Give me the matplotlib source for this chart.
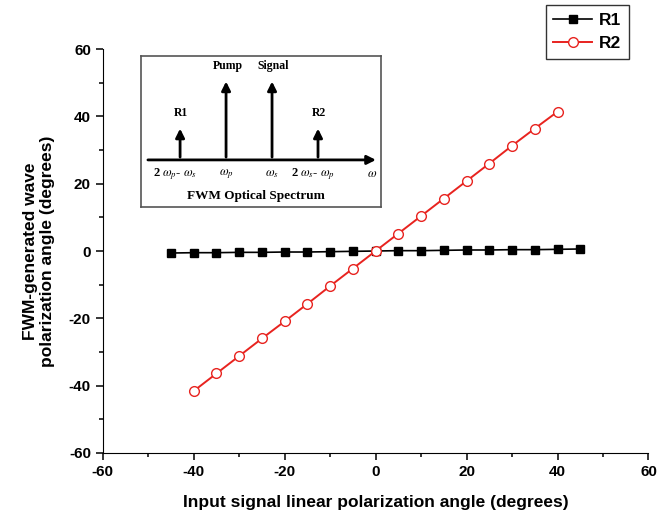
import matplotlib
matplotlib.use("Agg")
import matplotlib.pyplot as plt
from matplotlib.ticker import MultipleLocator

plt.rcParams['font.family'] = ['Liberation Sans', 'DejaVu Sans']
plt.rcParams['mathtext.fontset'] = 'stix'
plt.rcParams['axes.unicode_minus'] = False

# data
r1_x = [-45, -40, -35, -30, -25, -20, -15, -10, -5, 0, 5, 10, 15, 20, 25, 30, 35, 40, 45]
r1_y = [-0.6, -0.5, -0.5, -0.4, -0.4, -0.3, -0.3, -0.2, -0.1, 0.0, 0.1, 0.1, 0.2, 0.3, 0.3, 0.4, 0.4, 0.5, 0.6]
r2_x = [-40, -35, -30, -25, -20, -15, -10, -5, 0, 5, 10, 15, 20, 25, 30, 35, 40]
r2_y = [-41.6, -36.4, -31.2, -26.0, -20.9, -15.7, -10.4, -5.2, 0.0,
        5.2, 10.4, 15.6, 20.8, 26.0, 31.3, 36.4, 41.4]

# inset: FWM optical spectrum sketch
spec_pos = [1, 2, 3, 4]
spec_height = [0.42, 1.0, 1.0, 0.42]
spec_top = ["R1", "Pump", "Signal", "R2"]
spec_bottom = [r"2 $\omega_{p}$- $\omega_{s}$", r"$\omega_{p}$", r"$\omega_{s}$",
               r"2 $\omega_{s}$- $\omega_{p}$"]

fig = plt.figure(figsize=(6.59, 5.17), dpi=100)
ax = fig.add_axes([0.156, 0.124, 0.828, 0.781])

ax.plot(r1_x, r1_y, color="black", marker="s", markersize=6, linewidth=1.2, label="R1")
ax.plot(r2_x, r2_y, color="#e8231f", marker="o", markersize=7, markerfacecolor="white",
        markeredgecolor="#e8231f", linewidth=1.4, label="R2")

ax.set_xlim(-60, 60)
ax.set_ylim(-60, 60)
ax.xaxis.set_major_locator(MultipleLocator(20))
ax.xaxis.set_minor_locator(MultipleLocator(10))
ax.yaxis.set_major_locator(MultipleLocator(20))
ax.yaxis.set_minor_locator(MultipleLocator(10))
ax.spines['top'].set_visible(False)
ax.spines['right'].set_visible(False)
ax.tick_params(which="both", direction="out", width=1.1)
ax.tick_params(which="major", length=5, labelsize=11)
ax.tick_params(which="minor", length=3)
for lab in ax.get_xticklabels() + ax.get_yticklabels():
    lab.set_fontweight("bold")

ax.set_xlabel("Input signal linear polarization angle (degrees)", fontsize=12.5,
              fontweight="bold", labelpad=12)
ax.set_ylabel("FWM-generated wave\npolarization angle (degrees)", fontsize=12.5,
              fontweight="bold", labelpad=10, multialignment="center")

leg = fig.legend(loc="upper left", bbox_to_anchor=(0.828, 0.991), frameon=True,
                 fancybox=False, edgecolor="black", prop={"weight": "bold", "size": 12.5},
                 handlelength=2.2, handletextpad=0.4, borderpad=0.45, labelspacing=0.5,
                 borderaxespad=0)
leg.get_frame().set_linewidth(1.0)

# inset
ins = fig.add_axes([141 / 659, 1 - 207 / 517, 240 / 659, 151 / 517])
ins.set_xlim(0.15, 5.37)
ins.set_ylim(-0.58, 1.28)
ins.set_xticks([])
ins.set_yticks([])
for s in ins.spines.values():
    s.set_color("#555555")
    s.set_linewidth(1.2)

serif = ['Liberation Serif', 'DejaVu Serif']
ins.annotate("", xy=(5.32, 0), xytext=(0.24, 0),
             arrowprops=dict(arrowstyle="-|>", color="black", lw=2.0, mutation_scale=13))
for p, h, t, b in zip(spec_pos, spec_height, spec_top, spec_bottom):
    ins.annotate("", xy=(p, h), xytext=(p, 0),
                 arrowprops=dict(arrowstyle="-|>", color="black", lw=2.0, mutation_scale=13))
    ins.text(p + 0.03, h + 0.08, t, ha="center", va="bottom", fontsize=8.5,
             fontweight="bold", family=serif)
    ins.text(p - 0.1 if b.startswith("2") else p, -0.17, b, ha="center", va="center",
             fontsize=9, fontweight="bold", family=serif)
ins.text(5.17, -0.17, r"$\omega$", ha="center", va="center", fontsize=9, family=serif)
ins.text(2.65, -0.45, "FWM Optical Spectrum", ha="center", va="center", fontsize=9.5,
         fontweight="bold", family=serif)

fig.savefig("out.png", dpi=100)
